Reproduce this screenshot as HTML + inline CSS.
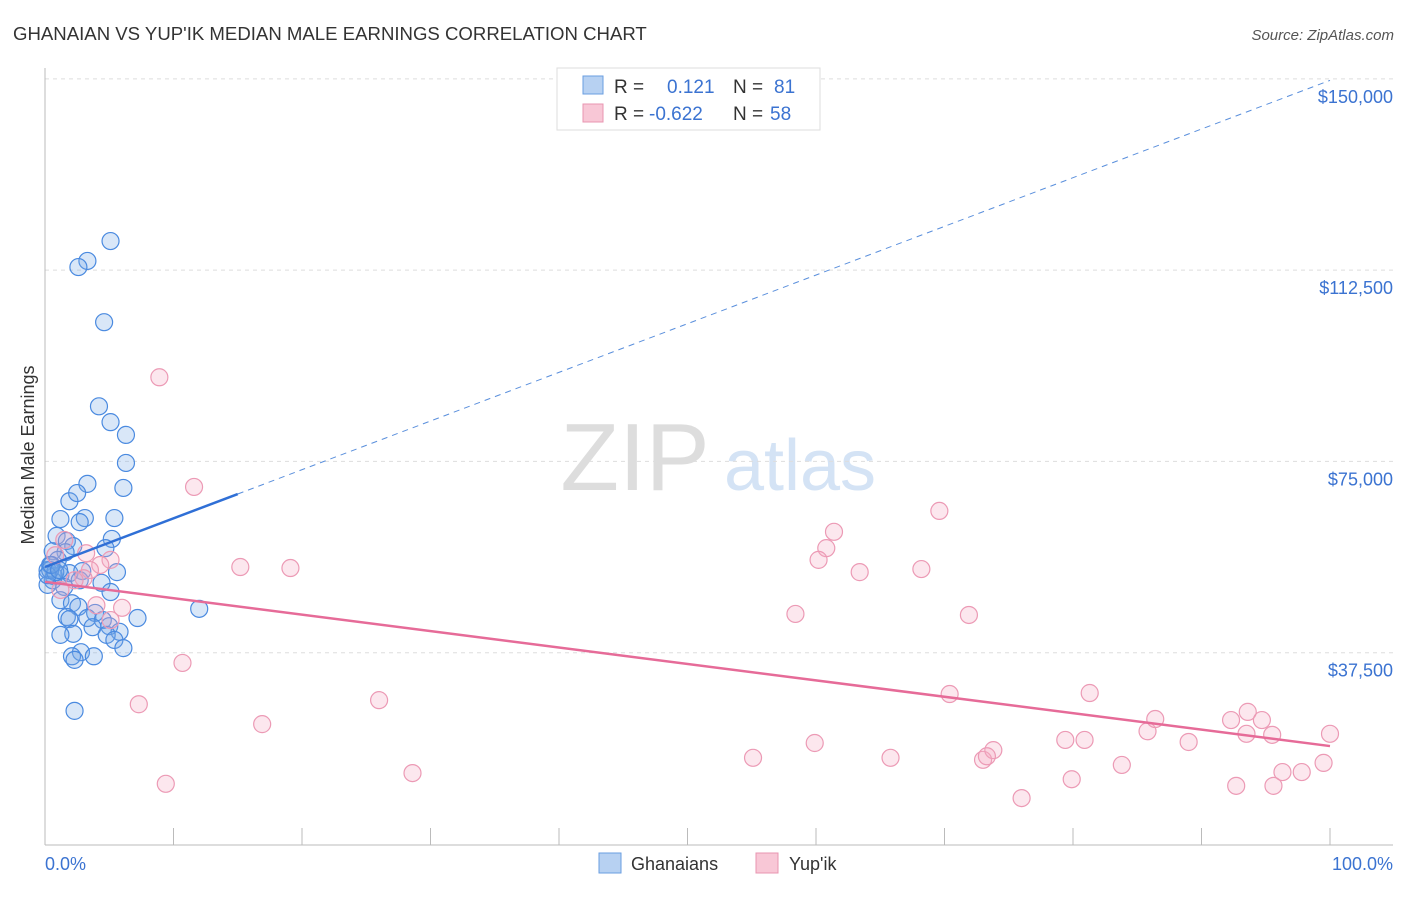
<!DOCTYPE html>
<html><head><meta charset="utf-8"><style>
body{margin:0;background:#fff;font-family:"Liberation Sans",sans-serif;}
svg text{font-family:"Liberation Sans",sans-serif;}
</style></head><body>
<svg width="1406" height="892" id="chart">
<text x="13" y="40" font-size="18.6" fill="#333">GHANAIAN VS YUP'IK MEDIAN MALE EARNINGS CORRELATION CHART</text>
<text x="1394" y="40" font-size="15" fill="#555" font-style="italic" text-anchor="end">Source: ZipAtlas.com</text>
<text x="635" y="490" font-size="96" fill="#ddd" font-family="Liberation Serif" text-anchor="middle">ZIP</text>
<text x="800" y="490" font-size="72" fill="#d4e3f5" text-anchor="middle">atlas</text>
<g id="grid"></g><g id="axes"></g><g id="pts"></g><g id="trend"></g>
<text transform="translate(34,455) rotate(-90)" font-size="18" fill="#333" text-anchor="middle">Median Male Earnings</text>
<text x="45" y="870" font-size="18" fill="#3b73d1">0.0%</text>
<text x="1393" y="870" font-size="18" fill="#3b73d1" text-anchor="end">100.0%</text>
<g>
<rect x="557" y="68" width="263" height="62" fill="#fff" stroke="#ddd"/>
<rect x="583" y="76" width="20" height="18" fill="#b7d1f2" stroke="#6a9ee0"/>
<rect x="583" y="104" width="20" height="18" fill="#f8c7d6" stroke="#e895b0"/>
<text x="614" y="93" font-size="19" fill="#333">R =</text><text x="667" y="93" font-size="19" fill="#3b73d1">0.121</text>
<text x="733" y="93" font-size="19" fill="#333">N =</text><text x="774" y="93" font-size="19" fill="#3b73d1">81</text>
<text x="614" y="120" font-size="19" fill="#333">R =</text><text x="649" y="120" font-size="19" fill="#3b73d1">-0.622</text>
<text x="733" y="120" font-size="19" fill="#333">N =</text><text x="770" y="120" font-size="19" fill="#3b73d1">58</text>
</g>
<g>
<rect x="599" y="853" width="22" height="20" fill="#b7d1f2" stroke="#6a9ee0"/>
<text x="631" y="870" font-size="18" fill="#333">Ghanaians</text>
<rect x="756" y="853" width="22" height="20" fill="#f8c7d6" stroke="#e895b0"/>
<text x="789" y="870" font-size="18" fill="#333">Yup'ik</text>
</g>
</svg>
<script>
const yTicks=[37500,75000,112500,150000];
const yTickLabels=["$37,500","$75,000","$112,500","$150,000"];
const blueX=[5.1,3.3,2.6,4.6,4.2,5.1,6.3,6.3,6.1,3.3,1.9,2.5,1.2,3.1,5.4,2.7,0.9,5.2,1.7,4.7,2.2,1.6,0.6,1.0,0.4,0.2,0.7,1.2,0.6,1.9,2.9,5.6,0.2,1.5,2.7,4.4,5.1,1.2,2.1,2.6,3.9,1.7,1.9,3.3,4.5,7.2,12.0,3.7,5.0,5.8,2.2,1.2,4.8,5.4,6.1,2.8,2.1,3.8,2.3,2.3,0.4,0.8,0.2,0.5,1.1];
const blueY=[118200,114300,113100,102300,85800,82700,80200,74700,69800,70600,67200,68800,63700,63900,63900,63100,60400,59800,59400,58000,58400,57200,57400,55700,54700,53700,52500,52700,51700,53100,53500,53300,50800,50400,51700,51200,49400,47800,47200,46500,45300,44500,44100,44300,43900,44300,46100,42500,42700,41600,41200,41000,41000,40000,38400,37600,36800,36800,36100,26100,53700,53300,52700,54700,53700];
const pinkX=[8.9,11.6,15.2,19.1,10.7,7.3,9.4,16.9,26.0,28.6,5.1,4.3,3.5,3.0,6.0,4.0,5.1,1.5,0.8,2.3,3.2,1.2,61.4,60.8,60.2,63.4,68.2,69.6,58.4,71.9,70.4,55.1,59.9,65.8,73.0,73.8,73.3,76.0,79.4,80.9,79.9,81.3,83.8,85.8,86.4,89.0,92.3,93.6,93.5,94.7,95.5,92.7,95.6,96.3,97.8,99.5,100];
const pinkY=[91500,70000,54300,54100,35500,27400,11800,23500,28200,13900,55700,54700,53700,52100,46300,46800,43900,59600,56600,51700,57000,49800,61200,58000,55700,53300,53900,65300,45100,44900,29400,16900,19800,16900,16500,18400,17200,9000,20400,20400,12700,29600,15500,22100,24500,20000,24300,25900,21600,24300,21400,11400,11400,14100,14100,15900,21600];
const blueTrend=[54300,149700]; const blueSolidEnd=15;
const pinkTrend=[51400,19200];
const X=v=>45+v*12.85, Y=v=>844-v*0.005101;
const NS="http://www.w3.org/2000/svg";
function mk(t,a,p){const e=document.createElementNS(NS,t);for(const k in a)e.setAttribute(k,a[k]);document.getElementById(p).appendChild(e);return e;}
yTicks.forEach((v,i)=>{
 const l=mk('line',{x1:45,x2:1393,y1:Y(v),y2:Y(v),stroke:'#ddd','stroke-dasharray':'4,4'},'grid');
 
 
 const t=mk('text',{x:1393,y:Y(v)+24,'font-size':18,fill:'#3b73d1','text-anchor':'end'},'grid');
 t.textContent=yTickLabels[i];
 
 
});
const ax=mk('line',{x1:45,x2:45,y1:68,y2:845,stroke:'#bbb'},'axes');


const bx=mk('line',{x1:45,x2:1393,y1:845,y2:845,stroke:'#bbb'},'axes');


for(let i=1;i<=10;i++){const tk=mk('line',{x1:X(i*10),x2:X(i*10),y1:828,y2:845,stroke:'#bbb'},'axes');
 
 }
blueX.forEach((x,i)=>{const c=mk('circle',{cx:X(x),cy:Y(blueY[i]),r:8.5,fill:'rgba(120,170,230,0.28)',stroke:'#4a8ae0','stroke-width':1.2},'pts');
 
 });
pinkX.forEach((x,i)=>{const c=mk('circle',{cx:X(x),cy:Y(pinkY[i]),r:8.5,fill:'rgba(245,170,195,0.28)',stroke:'#ec9ab5','stroke-width':1.2},'pts');
 
 });
const bAt=x=>blueTrend[0]+(blueTrend[1]-blueTrend[0])*x/100;
const b1=mk('line',{x1:X(0),y1:Y(bAt(0)),x2:X(blueSolidEnd),y2:Y(bAt(blueSolidEnd)),stroke:'#2f6fd6','stroke-width':2.5},'trend');


const b2=mk('line',{x1:X(blueSolidEnd),y1:Y(bAt(blueSolidEnd)),x2:X(100),y2:Y(bAt(100)),stroke:'#5a8fdc','stroke-width':1,'stroke-dasharray':'6,5'},'trend');


const p1=mk('line',{x1:X(0),y1:Y(pinkTrend[0]),x2:X(100),y2:Y(pinkTrend[1]),stroke:'#e66b98','stroke-width':2.5},'trend');


</script>
</body></html>
